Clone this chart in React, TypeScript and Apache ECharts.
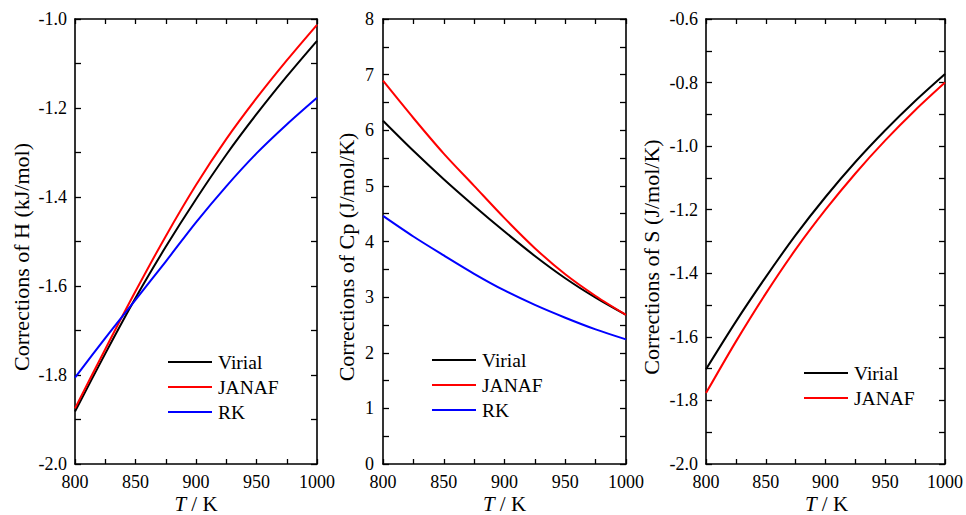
import React, { useEffect, useRef } from "react";
import * as echarts from "echarts";

const temps = [800, 825, 850, 875, 900, 925, 950, 975, 1000];

const hVirial = [-1.882, -1.752, -1.627, -1.512, -1.405, -1.305, -1.214, -1.129, -1.049];
const hJanaf = [-1.875, -1.742, -1.612, -1.488, -1.373, -1.27, -1.178, -1.093, -1.013];
const hRK = [-1.806, -1.717, -1.631, -1.545, -1.457, -1.376, -1.302, -1.237, -1.177];

const cpVirial = [6.17, 5.63, 5.12, 4.64, 4.18, 3.74, 3.34, 2.99, 2.68];
const cpJanaf = [6.89, 6.22, 5.58, 5.0, 4.42, 3.88, 3.41, 3.02, 2.68];
const cpRK = [4.46, 4.09, 3.75, 3.42, 3.12, 2.86, 2.63, 2.42, 2.24];

const sVirial = [-1.702, -1.552, -1.412, -1.28, -1.16, -1.05, -0.95, -0.858, -0.773];
const sJanaf = [-1.777, -1.615, -1.464, -1.325, -1.2, -1.086, -0.982, -0.887, -0.8];

const yTitles = ["Corrections of H (kJ/mol)", "Corrections of Cp (J/mol/K)", "Corrections of S (J/mol/K)"];
const xTitle = "{i|T} / K";

const FONT = "'Liberation Serif', 'Times New Roman', serif";

export default function App() {
  const ref = useRef<HTMLDivElement>(null);
  useEffect(() => {
    if (!ref.current) return;
    const chart = echarts.init(ref.current, null, { renderer: "svg" });

    const grids = [
      { left: 75, top: 19, width: 242, height: 445 },
      { left: 383, top: 19, width: 243, height: 445 },
      { left: 706, top: 19, width: 241, height: 445 },
    ];
    const yRanges = [
      { min: -2, max: -1, interval: 0.1, margin: 8, titleX: 21 },
      { min: 0, max: 8, interval: 0.5, margin: 9, titleX: 346.5 },
      { min: -2, max: -0.6, interval: 0.1, margin: 8, titleX: 651.5 },
    ];
    const axisLine = { show: true, onZero: false, lineStyle: { color: "#000", width: 1.6 } };
    const tick = (len: number) => ({ show: true, inside: true, length: len, lineStyle: { color: "#000", width: 1.3 } });

    const xAxes: any[] = [];
    const yAxes: any[] = [];
    const graphics: any[] = [];
    grids.forEach((gr, g) => {
      xAxes.push({
        type: "value", gridIndex: g, min: 800, max: 1000, interval: 25, position: "bottom",
        axisLine, axisTick: tick(5), splitLine: { show: false },
        axisLabel: {
          show: true, margin: 9, color: "#000", fontFamily: FONT, fontSize: 18,
          formatter: (v: number) => (Math.round(v) % 50 === 0 ? String(Math.round(v)) : ""),
        },
      });
      xAxes.push({
        type: "value", gridIndex: g, min: 800, max: 1000, interval: 25, position: "top",
        axisLine, axisTick: tick(5), splitLine: { show: false }, axisLabel: { show: false },
      });
      const r = yRanges[g];
      yAxes.push({
        type: "value", gridIndex: g, min: r.min, max: r.max, interval: r.interval, position: "left",
        axisLine, axisTick: tick(6), splitLine: { show: false },
        axisLabel: {
          show: true, margin: r.margin, color: "#000", fontFamily: FONT, fontSize: 18,
          formatter: (v: number) => {
            if (g === 1) {
              return Math.abs(v - Math.round(v)) < 1e-6 ? String(Math.round(v)) : "";
            }
            const k = Math.round(v * 10);
            return k % 2 === 0 ? (k / 10).toFixed(1) : "";
          },
        },
      });
      yAxes.push({
        type: "value", gridIndex: g, min: r.min, max: r.max, interval: r.interval, position: "right",
        axisLine, axisTick: tick(6), splitLine: { show: false }, axisLabel: { show: false },
      });
      graphics.push({
        type: "text", x: r.titleX, y: 257, rotation: Math.PI / 2,
        style: {
          text: yTitles[g], fill: "#000", fontFamily: FONT, fontSize: 22,
          textAlign: "center", textVerticalAlign: "middle",
        },
      });
      graphics.push({
        type: "text", x: gr.left + gr.width / 2, y: 503.5,
        style: {
          text: xTitle, fill: "#000", fontFamily: FONT, fontSize: 21,
          textAlign: "center", textVerticalAlign: "middle",
          rich: { i: { fontStyle: "italic", fontFamily: FONT, fontSize: 21, fill: "#000" } },
        },
      });
    });

    const mk = (name: string, color: string, ys: number[], g: number) => ({
      type: "line", name, xAxisIndex: 2 * g, yAxisIndex: 2 * g,
      data: temps.map((t, i) => [t, ys[i]]),
      symbol: "none", showSymbol: false, smooth: 0.3,
      lineStyle: { color, width: 2 }, itemStyle: { color },
    });

    const series = [
      mk("Virial", "#000000", hVirial, 0),
      mk("JANAF", "#ff0000", hJanaf, 0),
      mk("RK", "#0000ff", hRK, 0),
      mk("Virial", "#000000", cpVirial, 1),
      mk("JANAF", "#ff0000", cpJanaf, 1),
      mk("RK", "#0000ff", cpRK, 1),
      mk("Virial", "#000000", sVirial, 2),
      mk("JANAF", "#ff0000", sJanaf, 2),
    ];

    const legendBase = {
      orient: "vertical", icon: "rect", itemWidth: 44, itemHeight: 2, itemGap: 5,
      selectedMode: false,
      textStyle: { color: "#000", fontFamily: FONT, fontSize: 19.5, padding: [0, 0, 0, 1] },
      padding: 0,
    };

    chart.setOption({
      animation: false,
      backgroundColor: "#fff",
      grid: grids,
      xAxis: xAxes,
      yAxis: yAxes,
      legend: [
        { ...legendBase, left: 168, top: 352, data: ["Virial", "JANAF", "RK"] },
        { ...legendBase, left: 432, top: 350, data: ["Virial", "JANAF", "RK"] },
        { ...legendBase, left: 804, top: 363, data: ["Virial", "JANAF"] },
      ],
      graphic: graphics,
      series,
    });
    return () => chart.dispose();
  }, []);
  return <div ref={ref} style={{ position: "absolute", left: 0, top: 0, width: 966, height: 515 }} />;
}
